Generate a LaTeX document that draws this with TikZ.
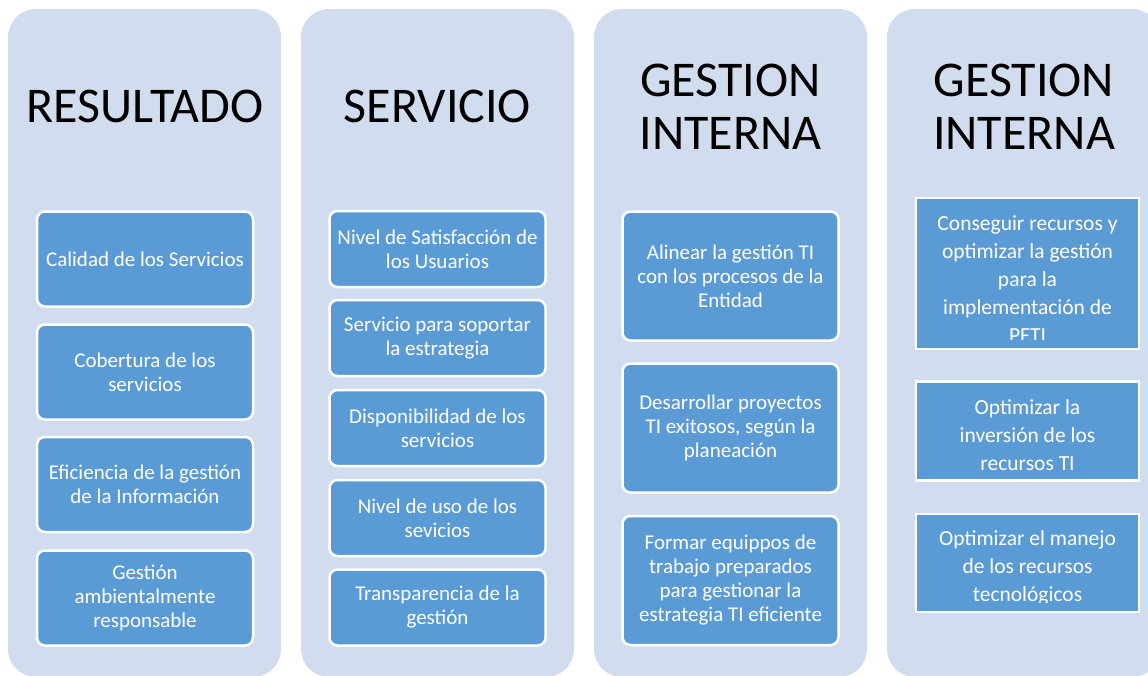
\documentclass[tikz,border=0pt]{standalone}
\usepackage{fontspec}
\setmainfont{Carlito}
\definecolor{panelbg}{RGB}{209,221,239}
\definecolor{boxblue}{RGB}{91,155,213}
\tikzset{
  panel/.style={fill=panelbg,rounded corners=28pt},
  coltitle/.style={align=center,font=\fontsize{50}{53}\selectfont},
  goalbox/.style={fill=boxblue,draw=white,line width=2.5pt,rounded corners=8pt,
    minimum width=216pt,text=white,align=center,font=\fontsize{21}{24}\selectfont},
  sqbox/.style={fill=boxblue,draw=white,line width=2.5pt,minimum width=223pt},
  sqtext/.style={text=white,align=center,font=\fontsize{21.5}{28}\selectfont}
}
\begin{document}
\begin{tikzpicture}[x=1pt,y=-1pt]
\useasboundingbox (0,0) rectangle (1148,675);
% background panels
\fill[panel] (8,9) rectangle (281,677);
\fill[panel] (301,9) rectangle (574,677);
\fill[panel] (594,9) rectangle (867,677);
\fill[panel] (887,9) rectangle (1160,677);
% titles
\node[coltitle] (res) at (145,106) {RESULTADO};
\node[coltitle] (ser) at (437.5,106) {SERVICIO};
\node[coltitle] (gia) at (730.5,107) {GESTION\\INTERNA};
\node[coltitle] (gib) at (1024,107) {GESTION\\INTERNA};
% resultado
\node[goalbox,minimum height=95pt] (cal) at (145,259) {Calidad de los Servicios};
\node[goalbox,minimum height=95pt] (cob) at (145,372) {Cobertura de los\\servicios};
\node[goalbox,minimum height=95pt] (efi) at (145,484.5) {Eficiencia de la gestión\\de la Información};
\node[goalbox,minimum height=95pt] (amb) at (145,598) {Gestión\\ambientalmente\\responsable};
% servicio
\node[goalbox,minimum height=76pt] (sat) at (437.5,249) {Nivel de Satisfacción de\\los Usuarios};
\node[goalbox,minimum height=76pt] (sop) at (437.5,338) {Servicio para soportar\\la estrategia};
\node[goalbox,minimum height=76pt] (dis) at (437.5,428) {Disponibilidad de los\\servicios};
\node[goalbox,minimum height=76pt] (uso) at (437.5,518) {Nivel de uso de los\\sevicios};
\node[goalbox,minimum height=76pt] (tra) at (437.5,607.5) {Transparencia de la\\gestión};
% gestion interna (procesos)
\node[goalbox,minimum height=129pt] (ali) at (730.5,276) {Alinear la gestión TI\\con los procesos de la\\Entidad};
\node[goalbox,minimum height=129pt] (des) at (730.5,428) {Desarrollar proyectos\\TI exitosos, según la\\planeación};
\node[goalbox,minimum height=129pt] (for) at (730.5,580.5) {Formar equippos de\\trabajo preparados\\para gestionar la\\estrategia TI eficiente};
% gestion interna (recursos)
\node[sqbox,minimum height=151pt] (rec) at (1027.5,273.5) {};
\node[sqbox,minimum height=99pt] (inv) at (1027.5,431) {};
\node[sqbox,minimum height=98pt] (man) at (1027.5,563) {};
\begin{scope}
\clip ([yshift=11pt]rec.south west) rectangle (rec.north east);
\node[sqtext] (rect) at (1027.5,279.5) {Conseguir recursos y\\optimizar la gestión\\para la\\implementación de\\PFTI};
\end{scope}
\node[sqtext] (invt) at (1027.5,435) {Optimizar la\\inversión de los\\recursos TI};
\begin{scope}
\clip ([yshift=11pt]man.south west) rectangle (man.north east);
\node[sqtext] (mant) at (1027.5,568) {Optimizar el manejo\\de los recursos\\tecnológicos};
\end{scope}
\end{tikzpicture}
\end{document}
